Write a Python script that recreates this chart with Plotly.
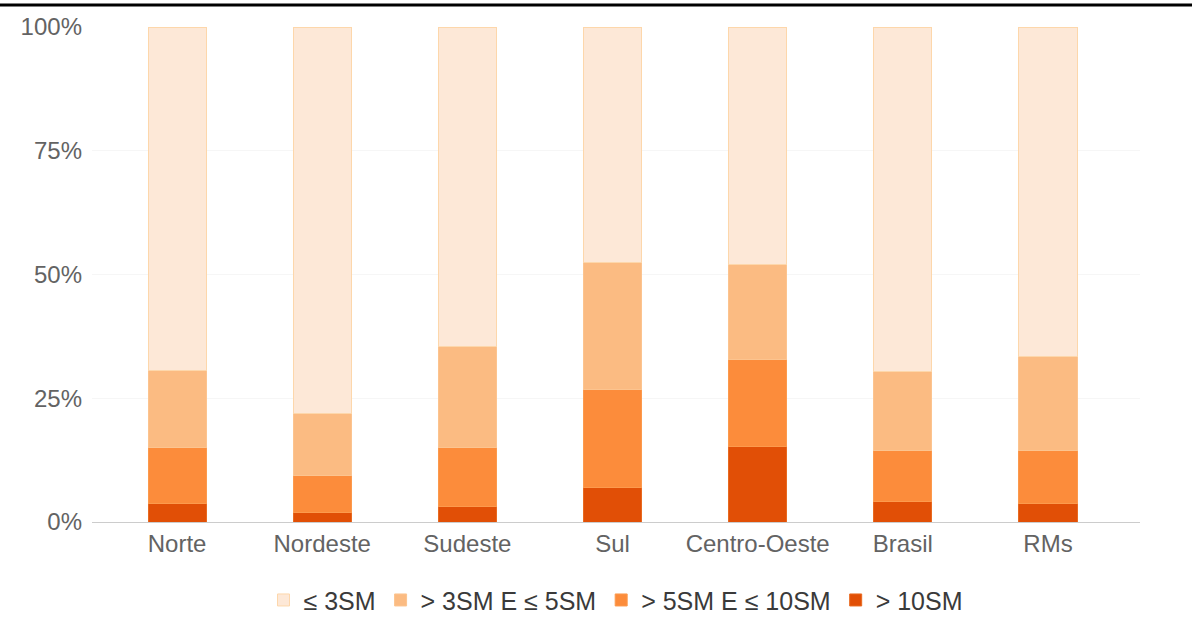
import plotly.graph_objects as go

categories = ["Norte", "Nordeste", "Sudeste", "Sul", "Centro-Oeste", "Brasil", "RMs"]
series_names = ["≤ 3SM", "> 3SM E ≤ 5SM", "> 5SM E ≤ 10SM", "> 10SM"]
ate3 = [69.3, 78.0, 64.6, 47.5, 47.9, 69.5, 66.5]
de3a5 = [15.7, 12.7, 20.4, 25.8, 19.2, 16.0, 19.0]
de5a10 = [11.2, 7.3, 11.8, 19.8, 17.7, 10.3, 10.7]
acima10 = [3.8, 2.0, 3.2, 6.9, 15.2, 4.2, 3.8]
y_ticks = [0, 25, 50, 75, 100]
y_ticktext = ["0%", "25%", "50%", "75%", "100%"]

colors = ["#fde8d7", "#fbbb82", "#fc8c3b", "#e14f06"]
lines = ["#fdd7ab", "#fcc48f", "#fc9a4d", "#e86a20"]

fig = go.Figure()
stack = [acima10, de5a10, de3a5, ate3]
stack_names = list(reversed(series_names))
stack_colors = list(reversed(colors))
stack_lines = list(reversed(lines))
xs = list(range(len(categories)))
for vals, name, c, lc in zip(stack, stack_names, stack_colors, stack_lines):
    fig.add_trace(go.Bar(x=xs, y=vals, name=name, marker=dict(color=c, line=dict(color=lc, width=1))))

fig.update_layout(
    barmode="stack",
    bargap=0.6,
    width=1192, height=629,
    margin=dict(l=92, r=52, t=27, b=107, autoexpand=False),
    plot_bgcolor="white", paper_bgcolor="white",
    font=dict(family="Liberation Sans, Arial, sans-serif", size=24, color="#636363"),
    showlegend=True,
    legend=dict(orientation="h", traceorder="reversed", x=0.5, xanchor="center", y=-0.158, yanchor="middle",
                font=dict(size=25, color="#3a3a3a"), itemwidth=30),
    xaxis=dict(range=[-0.586, 6.634], tickvals=xs, ticktext=categories, showgrid=False, automargin=False,
               showline=True, linecolor="#cccccc", linewidth=1, ticks="", tickfont=dict(size=24, color="#636363")),
    yaxis=dict(range=[0, 100], tickvals=y_ticks, ticktext=y_ticktext, showgrid=True, gridcolor="#f6f6f6",
               automargin=False, zeroline=False, ticks="", ticklabelstandoff=9,
               tickfont=dict(size=24, color="#636363")),
    shapes=[dict(type="line", xref="paper", yref="paper", x0=-92/1048, x1=1100/1048, y0=(522-5)/495, y1=(522-5)/495,
                 line=dict(color="black", width=3))],
)
fig.write_html("out.html", config={"displayModeBar": False}, post_script="document.body.style.margin='0';")
